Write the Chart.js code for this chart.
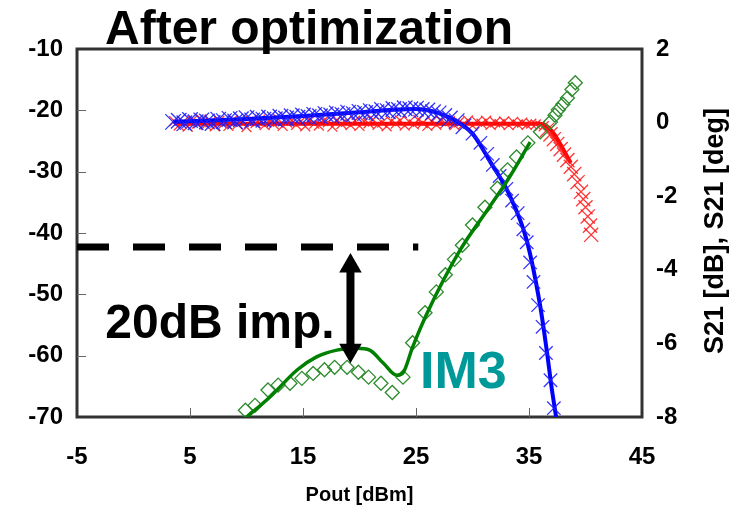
<!DOCTYPE html>
<html>
<head>
<meta charset="utf-8">
<script src="https://cdn.jsdelivr.net/npm/chart.js@4.4.0/dist/chart.umd.min.js"></script>
<style>
  html, body { margin: 0; padding: 0; background: #fff; }
  #wrap { width: 730px; height: 513px; }
</style>
</head>
<body>
<div id="wrap"><canvas id="chart" width="730" height="513"></canvas></div>
<script>
// axis ticks
const xTicks = [-5, 5, 15, 25, 35, 45];
const leftTicks = [-70, -60, -50, -40, -30, -20, -10];
const rightTicks = [-8, -6, -4, -2, 0, 2];

// S21 [dB] measured (red crosses, right axis)
const s21Pout = [3.6, 4.0, 4.4, 4.8, 5.2, 5.6, 6.0, 6.4, 6.8, 7.2, 7.6, 8.0, 8.4, 8.8, 9.2, 9.6,
  10.0, 10.4, 10.8, 11.2, 11.6, 12.0, 12.4, 12.8, 13.2, 13.6, 14.0, 14.4, 14.8, 15.2, 15.6,
  16.0, 16.4, 16.8, 17.2, 17.6, 18.0, 18.4, 18.8, 19.2, 19.6, 20.0, 20.4, 20.8, 21.2, 21.6,
  22.0, 22.4, 22.8, 23.2, 23.6, 24.0, 24.4, 24.8, 25.2, 25.6, 26.0, 26.4, 26.8, 27.2, 27.6,
  28.0, 28.4, 28.8, 29.2, 29.6, 30.0, 30.4, 30.8, 31.2, 31.6, 32.0, 32.4, 32.8, 33.2, 33.6,
  34.0, 34.4, 34.8, 35.2, 35.6, 36.0,
  36.3, 36.6, 36.9, 37.2, 37.5, 37.8, 38.1, 38.4, 38.7, 39.0, 39.3, 39.6, 39.8, 40.0, 40.2, 40.4, 40.5];
const s21Val = [0.04, -0.08, 0.02, -0.11, 0.06, -0.03, 0.09, -0.06, 0.01, -0.1,
  0.05, -0.02, -0.09, 0.07, -0.05, 0.03, -0.12, 0.04, -0.01, 0.08,
  -0.07, 0.02, -0.04, 0.1, -0.09, 0.0, 0.05, -0.06, 0.03, -0.1,
  0.06, -0.03, -0.08, 0.04, 0.01, -0.11, 0.07, -0.04, 0.02, -0.07,
  0.05, -0.09, 0.03, -0.02, 0.08, -0.06, 0.0, -0.1, 0.04, -0.03,
  0.06, -0.08, 0.02, -0.05, 0.07, -0.01, -0.09, 0.03, -0.06, 0.05,
  -0.02, 0.04, -0.07, 0.01, -0.04, 0.06, -0.08, 0.02, -0.03, 0.05,
  -0.06, 0.01, -0.04, 0.03, -0.07, 0.02, -0.05, 0.0, -0.06, -0.03,
  -0.05, -0.08,
  -0.1, -0.2, -0.32, -0.45, -0.58, -0.72, -0.87, -1.02, -1.2, -1.4, -1.62, -1.88, -2.08, -2.3, -2.55, -2.8, -3.05];
// S21 [dB] simulated
const s21LinePout = [3.6, 36.0, 36.6, 37.2, 37.8, 38.3, 38.7];
const s21LineVal = [-0.03, -0.03, -0.1, -0.3, -0.6, -0.88, -1.1];

// S21 [deg] measured (blue crosses, right axis)
const phasePout = [3.5, 4.0, 4.5, 5.0, 5.5, 6.0, 6.5, 7.0, 7.5, 8.0, 8.5, 9.0, 9.5, 10.0, 10.5, 11.0,
  11.5, 12.0, 12.5, 13.0, 13.5, 14.0, 14.5, 15.0, 15.5, 16.0, 16.5, 17.0, 17.5, 18.0, 18.5, 19.0,
  19.5, 20.0, 20.5, 21.0, 21.5, 22.0, 22.5, 23.0, 23.5, 24.0, 24.5, 25.0, 25.5, 26.0, 26.5, 27.0,
  27.5, 28.0, 28.6,
  29.2, 30.0, 30.7, 31.3, 31.8, 32.4, 33.0, 33.5, 34.0, 34.5, 34.8, 35.1, 35.4, 35.8, 36.2, 36.5,
  36.9, 37.2];
const phaseVal = [0.02, 0.05, -0.02, 0.07, 0.01, 0.06, 0.03, -0.01, 0.08, 0.04, 0.1, 0.03, 0.09, 0.12, 0.06, 0.13,
  0.08, 0.14, 0.09, 0.16, 0.11, 0.17, 0.13, 0.19, 0.15, 0.21, 0.17, 0.23, 0.19, 0.25, 0.21, 0.27,
  0.23, 0.29, 0.26, 0.31, 0.28, 0.34, 0.31, 0.37, 0.34, 0.39, 0.36, 0.38, 0.34, 0.33, 0.28, 0.25,
  0.18, 0.11, 0.04,
  -0.1, -0.3, -0.55, -0.85, -1.15, -1.45, -1.8, -2.12, -2.46, -2.9, -3.25, -3.8, -4.33, -4.96, -5.55, -6.26,
  -7.0, -7.76];
// S21 [deg] simulated
const phaseLinePout = [3.5, 10, 15, 20, 23, 25, 27, 28.5, 30, 31.6, 33.2, 34.8, 36.0, 36.6, 37.0, 37.4];
const phaseLineVal = [0.02, 0.1, 0.18, 0.28, 0.35, 0.37, 0.26, 0.05, -0.3, -1.08, -1.92, -3.2, -5.0, -6.26, -7.2, -8.0];

// IM3 [dBc] measured (green diamonds, left axis)
const im3Pout = [9.9, 10.75, 11.9, 12.8, 13.85, 14.9, 15.9, 16.9, 17.8, 18.9, 19.9, 20.8, 21.9, 22.9,
  23.85, 24.7, 25.8, 26.8, 27.6, 28.4, 29.1, 30.0, 31.1, 32.2, 33.1, 33.9, 34.9, 36.0, 36.9, 37.3,
  37.6, 38.0, 38.4, 38.8, 39.1];
const im3Val = [-68.9, -68.1, -65.6, -64.8, -64.5, -63.7, -62.9, -62.3, -61.9, -61.9, -62.7, -63.5, -64.5, -66.0,
  -63.5, -57.9, -53.0, -49.6, -46.8, -44.3, -42.0, -38.7, -35.8, -32.7, -29.7, -27.6, -25.3, -23.5, -21.9, -20.8,
  -19.9, -19.0, -18.0, -16.6, -15.5];
// IM3 simulated
const im3LinePout = [9.7, 12.1, 14.5, 16.2, 18.0, 19.8, 20.9, 22.1, 23.3, 23.85, 24.7, 26.0, 28.9, 31.3, 33.1, 35.1];
const im3LineVal = [-70.5, -66.7, -62.3, -60.2, -59.1, -58.8, -59.1, -61.2, -63.2, -62.8, -58.6, -53.0, -42.8, -36.3, -31.4, -25.2];

// IM3 level before optimization and the improvement arrow
const refPout = [-5, 25.2];
const refLevel = -42.3;
const arrowPout = 19.2;
const arrowEnds = [-45.4, -59.1];

const pts = (xs, ys) => xs.map((x, i) => ({ x: x, y: ys[i] }));
const FONT = '"Liberation Sans", Arial, sans-serif';
Chart.defaults.font.family = FONT;

const frameAndTicks = {
  id: 'frameAndTicks',
  beforeDatasetsDraw(chart) {
    const { ctx, chartArea: a, scales } = chart;
    ctx.save();
    ctx.strokeStyle = '#333';
    ctx.lineWidth = 3;
    ctx.strokeRect(a.left, a.top, a.right - a.left, a.bottom - a.top);
    ctx.lineWidth = 1;
    ctx.strokeStyle = '#666';
    ctx.beginPath();
    xTicks.slice(1, -1).forEach(v => {
      const px = Math.round(scales.x.getPixelForValue(v)) + 0.5;
      ctx.moveTo(px, a.bottom);
      ctx.lineTo(px, a.bottom - 9);
    });
    leftTicks.slice(1, -1).forEach(v => {
      const py = Math.round(scales.y.getPixelForValue(v)) + 0.5;
      ctx.moveTo(a.left, py);
      ctx.lineTo(a.left + 9, py);
    });
    ctx.stroke();
    ctx.restore();
  },
  afterDraw(chart) {
    const { ctx, chartArea: a, scales } = chart;
    ctx.save();
    ctx.fillStyle = '#000';
    ctx.textBaseline = 'alphabetic';
    ctx.textAlign = 'left';
    ctx.font = 'bold 48px ' + FONT;
    ctx.fillText('After optimization', 105, 44);
    ctx.fillText('20dB imp.', scales.x.getPixelForValue(-2.5), scales.y.getPixelForValue(-57.1));
    ctx.fillStyle = '#009999';
    ctx.font = 'bold 52px ' + FONT;
    ctx.fillText('IM3', scales.x.getPixelForValue(25.35), scales.y.getPixelForValue(-65.3));
    // right axis title, reading upward
    ctx.fillStyle = '#000';
    ctx.font = 'bold 27px ' + FONT;
    ctx.translate(716, (a.top + a.bottom) / 2 - 2);
    ctx.rotate(-Math.PI / 2);
    ctx.textAlign = 'center';
    ctx.textBaseline = 'middle';
    ctx.fillText('S21 [dB], S21 [deg]', 0, 0);
    ctx.restore();
  }
};

new Chart(document.getElementById('chart'), {
  type: 'scatter',
  data: {
    datasets: [
      {
        label: 'ref', data: pts(refPout, [refLevel, refLevel]), yAxisID: 'y',
        showLine: true, borderColor: '#000', borderWidth: 7, borderDash: [32, 24],
        borderCapStyle: 'butt', pointRadius: 0, order: 0
      },
      {
        label: 'arrow', data: pts([arrowPout, arrowPout], arrowEnds), yAxisID: 'y',
        showLine: true, borderColor: '#000', borderWidth: 8, borderCapStyle: 'butt',
        pointStyle: 'triangle', pointRadius: 13, pointRotation: [0, 180],
        pointBackgroundColor: '#000', pointBorderWidth: 0, order: 0
      },
      {
        label: 'IM3 sim', data: pts(im3LinePout, im3LineVal), yAxisID: 'y',
        showLine: true, borderColor: '#008000', borderWidth: 3.5,
        cubicInterpolationMode: 'monotone', pointRadius: 0, order: 1
      },
      {
        label: 'IM3 meas', data: pts(im3Pout, im3Val), yAxisID: 'y',
        pointStyle: 'rectRot', pointRadius: 7, pointBorderWidth: 1.3,
        pointBorderColor: '#2e8b2e', pointBackgroundColor: 'rgba(0,0,0,0)', order: 2
      },
      {
        label: 'phase meas', data: pts(phasePout, phaseVal), yAxisID: 'y2',
        pointStyle: 'crossRot', pointBorderWidth: 1.3,
        pointRadius: c => (c.raw && c.raw.y > -0.2 ? 11 : 9.5),
        pointBorderColor: 'rgba(30,30,255,0.9)', order: 3
      },
      {
        label: 'phase sim', data: pts(phaseLinePout, phaseLineVal), yAxisID: 'y2',
        showLine: true, borderColor: '#0000ff', borderWidth: 4,
        cubicInterpolationMode: 'monotone', pointRadius: 0, order: 4
      },
      {
        label: 'S21 meas', data: pts(s21Pout, s21Val), yAxisID: 'y2',
        pointStyle: 'crossRot', pointBorderWidth: 1.3,
        pointRadius: c => (c.raw && c.raw.y < -0.15 ? 10 : 7),
        pointBorderColor: 'rgba(255,20,20,0.85)', order: 5
      },
      {
        label: 'S21 sim', data: pts(s21LinePout, s21LineVal), yAxisID: 'y2',
        showLine: true, borderColor: '#ff0000', borderWidth: 4,
        cubicInterpolationMode: 'monotone', pointRadius: 0, order: 6
      }
    ]
  },
  options: {
    responsive: false,
    animation: false,
    devicePixelRatio: 1,
    layout: { padding: { top: 49, left: 0, right: 0, bottom: 0 } },
    plugins: { legend: { display: false }, tooltip: { enabled: false } },
    scales: {
      x: {
        type: 'linear', min: -5, max: 45,
        afterBuildTicks: s => { s.ticks = xTicks.map(v => ({ value: v })); },
        afterFit: s => { s.height = 96; },
        grid: { display: false, drawTicks: false },
        border: { display: false },
        ticks: { color: '#000', font: { size: 24, weight: 'bold' }, padding: 26, maxRotation: 0, autoSkip: false },
        title: { display: true, text: 'Pout [dBm]', color: '#000', font: { size: 20, weight: 'bold' }, padding: { top: 0, bottom: 6 } }
      },
      y: {
        type: 'linear', position: 'left', min: -70, max: -10,
        afterBuildTicks: s => { s.ticks = leftTicks.map(v => ({ value: v })); },
        afterFit: s => { s.width = 77; },
        grid: { display: false, drawTicks: false },
        border: { display: false },
        ticks: { color: '#000', font: { size: 24, weight: 'bold' }, padding: 14 }
      },
      y2: {
        type: 'linear', position: 'right', min: -8, max: 2,
        afterBuildTicks: s => { s.ticks = rightTicks.map(v => ({ value: v })); },
        afterFit: s => { s.width = 88; },
        grid: { display: false, drawTicks: false },
        border: { display: false },
        ticks: { color: '#000', font: { size: 24, weight: 'bold' }, padding: 14 }
      }
    }
  },
  plugins: [frameAndTicks]
});
</script>
</body>
</html>
